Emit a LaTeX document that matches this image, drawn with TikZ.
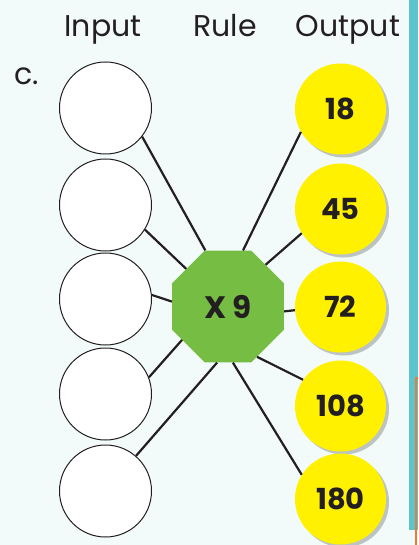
\documentclass[tikz,border=0pt]{standalone}
\usepackage{fontspec}
\setmainfont{Poppins}
\usepackage{tikz}
\usetikzlibrary{shapes.geometric, shadows}

\definecolor{bgcyan}{HTML}{F2FAFA}
\definecolor{ink}{HTML}{231F20}
\definecolor{ruleg}{HTML}{76BE43}
\definecolor{outy}{HTML}{FFF100}
\definecolor{stripe}{HTML}{5CC4CC}
\definecolor{edgeor}{HTML}{F07A2E}
\definecolor{edgegr}{HTML}{1DA64A}

\begin{document}
\begin{tikzpicture}[
    x=1pt, y=-1pt,
    inp/.style={draw=ink, line width=1pt, fill=white, circle,
                minimum size=92pt, inner sep=0pt},
    outp/.style={fill=outy, circle, minimum size=91pt, inner sep=0pt,
                 font=\fontsize{29}{29}\selectfont\bfseries, text=ink,
                 drop shadow={shadow xshift=3pt, shadow yshift=-3pt,
                              opacity=0.22, fill=black}},
    rulebox/.style={fill=ruleg, regular polygon, regular polygon sides=8,
                    minimum size=121pt, inner sep=0pt,
                    font=\fontsize{31}{31}\selectfont\bfseries, text=ink},
    head/.style={font=\fontsize{30}{30}\selectfont, text=ink, anchor=base},
    link/.style={draw=ink, line width=2.2pt},
]
% --- page and neighbouring edges --------------------------------------------
\fill[bgcyan] (0,0) rectangle (418,545);
\useasboundingbox (0,0) rectangle (418,545);
\fill[stripe] (409,0) rectangle (418,530);
\draw[edgeor, line width=2pt] (416,545) |- (418,378);
\fill[edgegr] (402,545) arc[start angle=180, end angle=90, radius=16] -- (418,545) -- cycle;
% --- headings ---------------------------------------------------------------
\node[head] (hin)  at (103,37) {Input};
\node[head] (hrl)  at (225,37) {Rule};
\node[head] (hout) at (348,37) {Output};
\node[head, anchor=base west] (lab) at (11,85) {c.};
% --- input column -----------------------------------------------------------
\node[inp] (in1) at (105.5,108) {};
\node[inp] (in2) at (105.5,205) {};
\node[inp] (in3) at (105.5,299) {};
\node[inp] (in4) at (105.5,394) {};
\node[inp] (in5) at (105.5,491) {};
% --- rule -------------------------------------------------------------------
\node[rulebox] (rule) at (228,306.5) {X 9};
% --- output column ----------------------------------------------------------
\node[outp] (out1) at (340.5,109) {18};
\node[outp] (out2) at (340.5,209) {45};
\node[outp] (out3) at (340.5,307) {72};
\node[outp] (out4) at (340.5,406) {108};
\node[outp] (out5) at (340.5,499) {180};
% --- links ------------------------------------------------------------------
\draw[link] (in1.-38) -- (rule.112.5);
\draw[link] (in2.-32) -- (rule.138);
\draw[link] (in3.5)   -- (rule.175);
\draw[link] (in4.21)  -- (rule.216);
\draw[link] (in5.49)  -- (rule.259);
\draw[link] (rule.75)  -- (out1.210);
\draw[link] (rule.48)  -- (out2.212);
\draw[link] (rule.-5)  -- (out3.184);
\draw[link] (rule.-60) -- (out4.145);
\draw[link] (rule.-85) -- (out5.148);
\end{tikzpicture}
\end{document}
